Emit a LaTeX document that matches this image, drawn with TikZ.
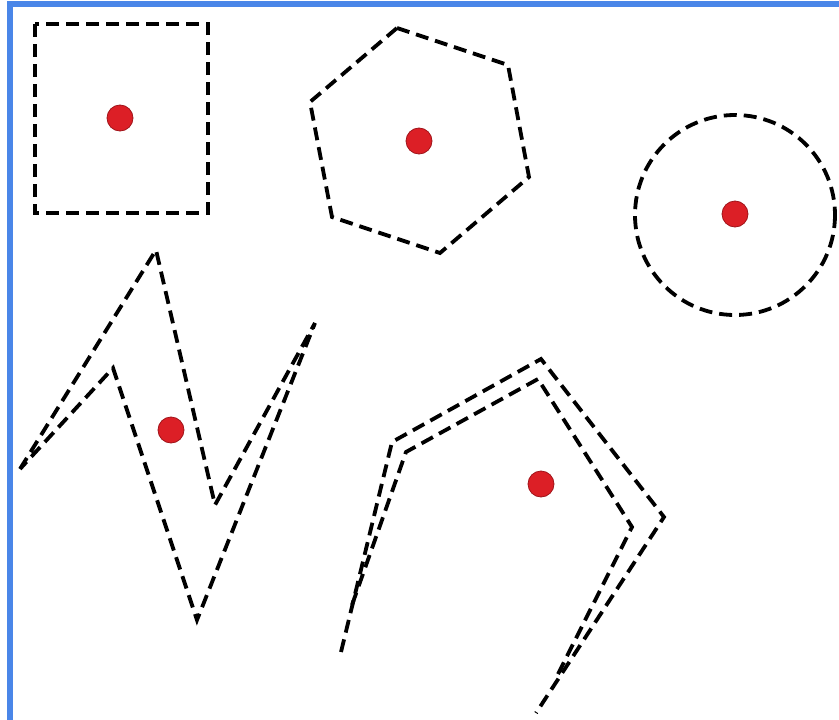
\documentclass[tikz,border=0pt]{standalone}
\definecolor{frameblue}{HTML}{4A86E8}
\definecolor{dotred}{HTML}{DC1F26}
\definecolor{dotedge}{HTML}{A0141A}
\begin{document}
\begin{tikzpicture}[x=1pt,y=-1pt,
  outline/.style={draw=black,line width=3.8pt,dash pattern=on 13pt off 7pt,line join=miter},
  centre/.style={circle,fill=dotred,draw=dotedge,line width=0.8pt,minimum size=26pt,inner sep=0pt}]
\useasboundingbox (0,0) rectangle (839,720);
\fill[white] (0,0) rectangle (839,720);
% frame
\draw[frameblue,line width=5.5pt] (10,720) -- (10,4) -- (839,4);
% square
\draw[outline] (35,24) rectangle (208,213);
\node[centre] (d1) at (120,118) {};
% hexagon
\draw[outline] (397,28) -- (508,65) -- (529,177) -- (440,253) -- (332,217) -- (310,102) -- cycle;
\node[centre] (d2) at (419,141) {};
% circle
\draw[outline] (735,215) circle (100);
\node[centre] (d3) at (735,214) {};
% zigzag
\draw[outline] (20,469) -- (156,250) -- (215,505) -- (315,323) -- (197,620) -- (113,368) -- cycle;
\node[centre] (d4) at (171,430) {};
% double bent line
\draw[outline] (341,652) -- (392,442) -- (541,359) -- (664,517) -- (536,713);
\draw[outline] (352,605) -- (406,452) -- (538,379) -- (632,527) -- (556,678);
\node[centre] (d5) at (541,484) {};
\end{tikzpicture}
\end{document}
